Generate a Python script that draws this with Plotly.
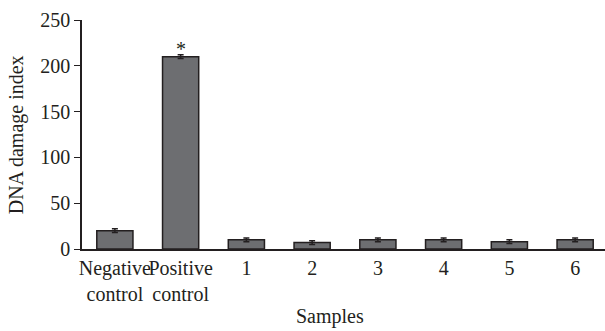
import plotly.graph_objects as go

categories = ["Negative<br>control", "Positive<br>control", "1", "2", "3", "4", "5", "6"]
values = [20, 210, 10, 7, 10, 10, 8, 10]
errors = [2, 2, 2, 2, 2, 2, 2, 2]
y_ticks = [0, 50, 100, 150, 200, 250]

fig = go.Figure()
fig.add_trace(go.Bar(
    x=categories, y=values,
    marker=dict(color="#6d6e71", line=dict(color="#231f20", width=1.5)),
    error_y=dict(type="data", array=errors, color="#231f20", thickness=1.5, width=3),
    width=0.55,
))
fig.add_annotation(x=categories[1], y=values[1] + errors[1], text="*", showarrow=False,
                   yanchor="bottom", yshift=-7, font=dict(size=20, color="#231f20"))

font = dict(family="Liberation Serif, Times New Roman, serif", size=20, color="#231f20")
fig.add_annotation(text="Samples", xref="paper", yref="paper", x=0.472, y=-0.293,
                   xanchor="center", yanchor="middle", showarrow=False, font=font)
fig.add_annotation(text="DNA damage index", xref="paper", yref="paper", x=-0.124, y=0.5,
                   xanchor="center", yanchor="middle", textangle=-90, showarrow=False, font=font)
fig.update_layout(
    width=608, height=331,
    margin=dict(l=82, r=0, t=20, b=82),
    paper_bgcolor="white", plot_bgcolor="white",
    font=font, showlegend=False, bargap=0.45,
    xaxis=dict(showline=True, linecolor="#231f20", linewidth=1.5, ticks="", tickangle=0,
               tickfont=font, showgrid=False, automargin=False),
    yaxis=dict(range=[0, 250], tickvals=y_ticks, showline=True, linecolor="#231f20",
               linewidth=1.5, ticks="outside", ticklen=6, tickcolor="#231f20",
               showgrid=False, zeroline=False, tickfont=font, automargin=False),
)
fig.write_html("out.html", config={"displayModeBar": False},
               post_script="document.body.style.margin='0';")
